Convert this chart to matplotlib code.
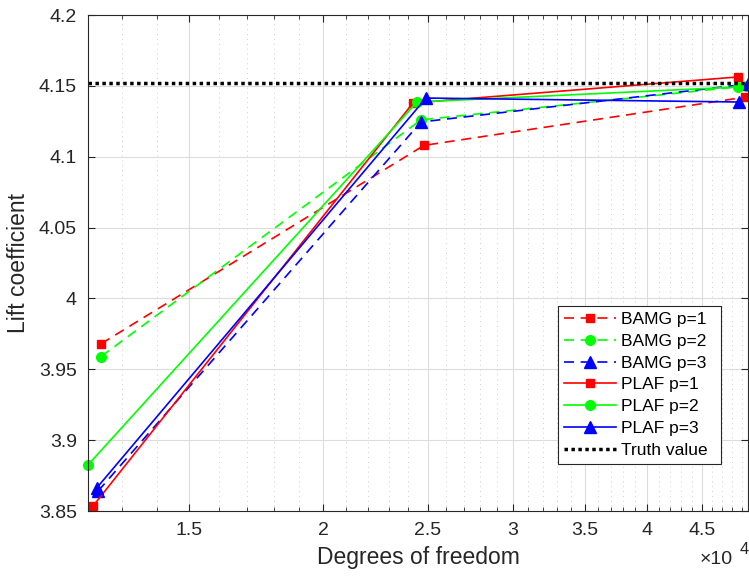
import numpy as np
import matplotlib
matplotlib.use('Agg')
import matplotlib.pyplot as plt
from matplotlib.ticker import FixedLocator, NullFormatter

plt.rcParams['font.family'] = ['Liberation Sans', 'DejaVu Sans']

# degrees of freedom and lift coefficient per mesh level
dof_bamg_p1 = [12424, 24810, 49335]
dof_bamg_p2 = [12424, 24651, 49550]
dof_bamg_p3 = [12345, 24651, 49650]
dof_plaf_p1 = [12213, 24232, 48600]
dof_plaf_p2 = [12083, 24441, 48600]
dof_plaf_p3 = [12318, 24915, 48705]

cl_bamg_p1 = [3.968, 4.108, 4.142]
cl_bamg_p2 = [3.959, 4.126, 4.150]
cl_bamg_p3 = [3.864, 4.1245, 4.1513]
cl_plaf_p1 = [3.8535, 4.1379, 4.1563]
cl_plaf_p2 = [3.8825, 4.1386, 4.1492]
cl_plaf_p3 = [3.8665, 4.1414, 4.1386]

truth_value = 4.1521

xticks = [15000, 20000, 25000, 30000, 35000, 40000, 45000]
xticklabels = ['1.5', '2', '2.5', '3', '3.5', '4', '4.5']
yticks = [3.85, 3.9, 3.95, 4.0, 4.05, 4.1, 4.15, 4.2]
yticklabels = ['3.85', '3.9', '3.95', '4', '4.05', '4.1', '4.15', '4.2']

fig = plt.figure(figsize=(7.49, 5.76), dpi=100)
ax = fig.add_axes([88/749, 65/576, 660/749, 496/576])

ms = 7
lw = 1.2
dash = (0, (6, 4))
ax.plot(dof_bamg_p1, cl_bamg_p1, color='r', ls=dash, marker='s', ms=ms-1, lw=lw, label='BAMG p=1', clip_on=False)
ax.plot(dof_bamg_p2, cl_bamg_p2, color='#00ff00', ls=dash, marker='o', ms=ms, lw=lw, label='BAMG p=2', clip_on=False)
ax.plot(dof_bamg_p3, cl_bamg_p3, color='b', ls=dash, marker='^', ms=ms+1, lw=lw, label='BAMG p=3', clip_on=False)
ax.plot(dof_plaf_p1, cl_plaf_p1, color='r', ls='-', marker='s', ms=ms-1, lw=lw, label='PLAF p=1', clip_on=False)
ax.plot(dof_plaf_p2, cl_plaf_p2, color='#00ff00', ls='-', marker='o', ms=ms, lw=lw, label='PLAF p=2', clip_on=False)
ax.plot(dof_plaf_p3, cl_plaf_p3, color='b', ls='-', marker='^', ms=ms+1, lw=lw, label='PLAF p=3', clip_on=False)

all_dof = dof_bamg_p1 + dof_bamg_p2 + dof_bamg_p3 + dof_plaf_p1 + dof_plaf_p2 + dof_plaf_p3
xmin, xmax = min(all_dof), max(all_dof)
ax.plot([xmin, xmax], [truth_value, truth_value], color='k', ls=(0, (1, 1)), lw=2.5, label='Truth value')

ax.set_xscale('log')
ax.set_xlim(xmin, xmax)
ax.set_ylim(3.85, 4.2)

ax.xaxis.set_major_locator(FixedLocator(xticks))
ax.set_xticklabels(xticklabels)
ax.xaxis.set_minor_locator(FixedLocator(np.arange(12000, 50000, 1000)))
ax.xaxis.set_minor_formatter(NullFormatter())
ax.set_yticks(yticks)
ax.set_yticklabels(yticklabels)

axis_color = '#262626'
for s in ax.spines.values():
    s.set_color(axis_color)
    s.set_linewidth(0.8)
ax.tick_params(which='both', direction='in', top=True, right=True, colors=axis_color, labelsize=14)
ax.tick_params(which='major', length=5, width=0.8, pad=8)
ax.tick_params(which='minor', length=3, width=0.6)

ax.grid(True, which='major', color='#dcdcdc', lw=0.8)
ax.grid(True, which='minor', axis='x', color='#cfcfcf', ls=(0, (1, 4)), lw=0.7)
ax.set_axisbelow(True)

ax.set_xlabel('Degrees of freedom', fontsize=16.5, color=axis_color, labelpad=5)
ax.set_ylabel('Lift coefficient', fontsize=16.5, color=axis_color, labelpad=6)

# exponent of the x tick labels
fig.text(700/749, 1 - 560/576, '\u00d710', fontsize=14, color=axis_color, va='center', ha='left')
fig.text(740/749, 1 - 549/576, '4', fontsize=12, color=axis_color, va='center', ha='left')

leg = ax.legend(loc='upper left', bbox_to_anchor=(558/749, 1 - 468/576, 163/749, 162/576),
                bbox_transform=fig.transFigure, mode='expand',
                fontsize=12.5, fancybox=False, framealpha=1, edgecolor=axis_color,
                handlelength=3.0, handletextpad=0.3, borderpad=0.35, labelspacing=0.38, borderaxespad=0)
leg.get_frame().set_linewidth(0.8)

fig.savefig('out.png', dpi=100)
